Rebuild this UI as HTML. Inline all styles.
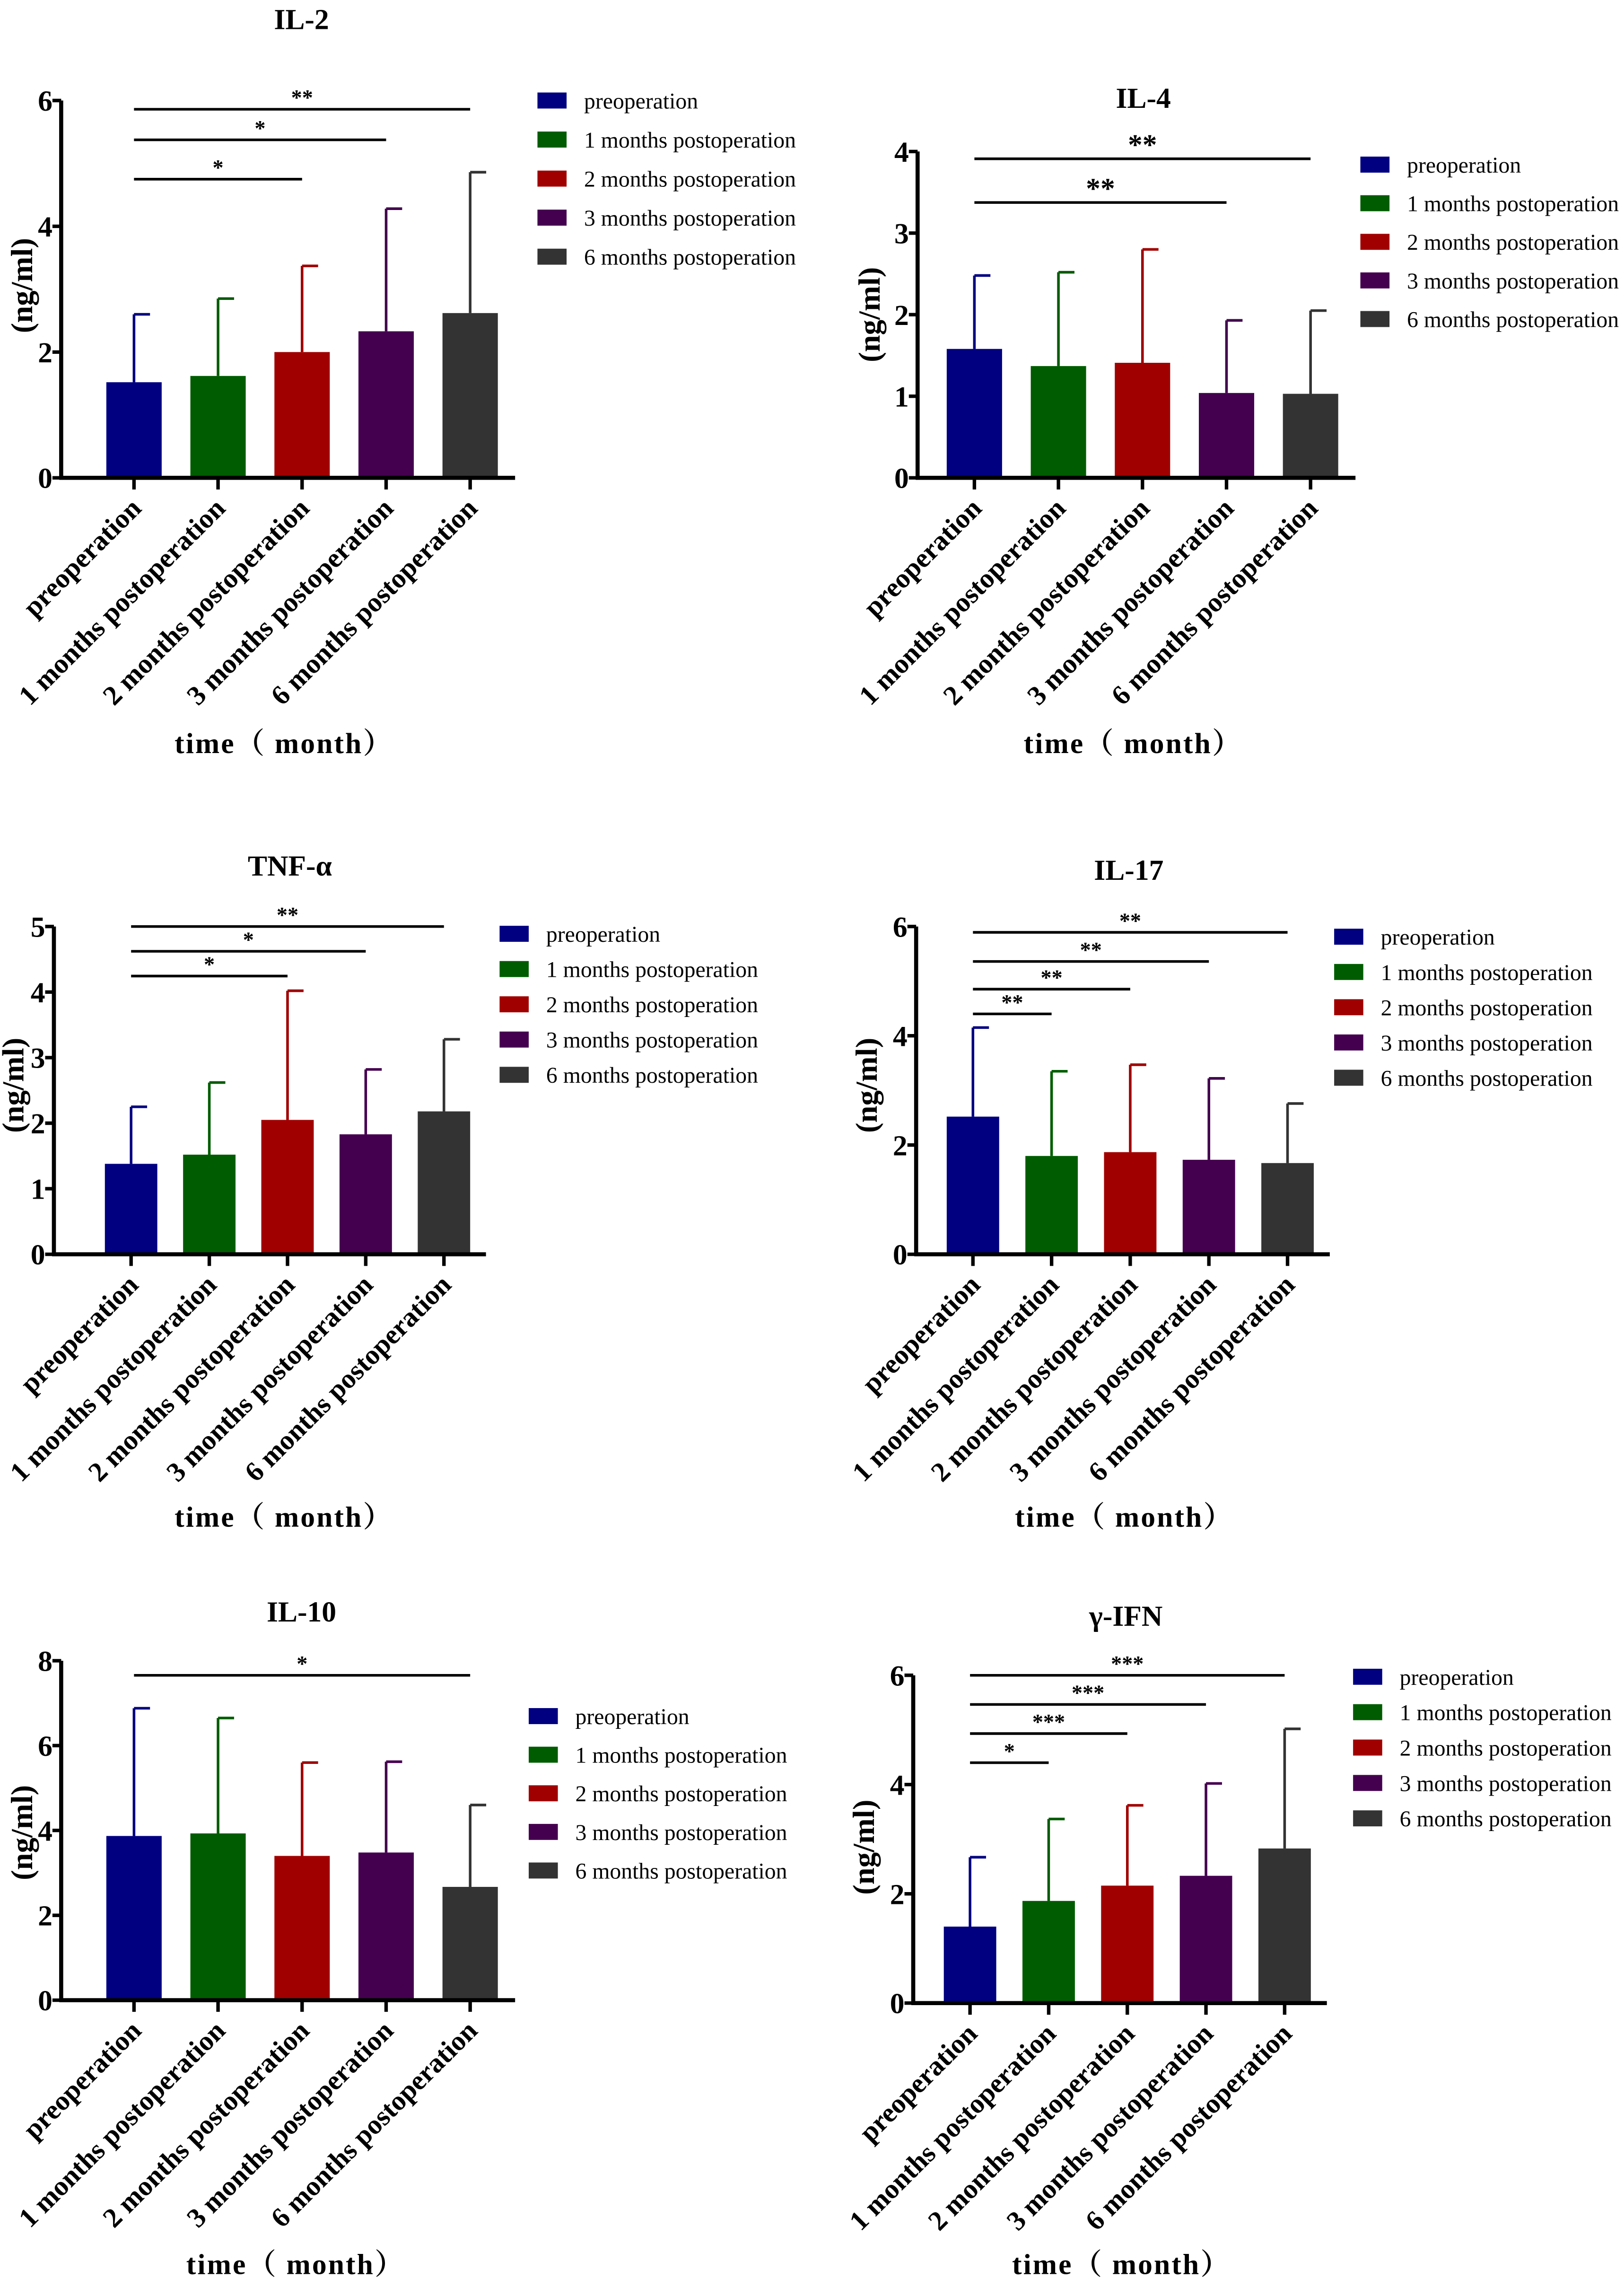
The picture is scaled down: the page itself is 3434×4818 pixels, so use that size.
<!DOCTYPE html>
<html><head><meta charset="utf-8"><style>
html,body{margin:0;padding:0;background:#fff}
svg{display:block}
text{font-family:"Liberation Serif","Noto Serif CJK SC",serif;fill:#000}
</style></head><body>
<svg id="fig" xmlns="http://www.w3.org/2000/svg" width="3434" height="4818" viewBox="0 0 1115 1564.4"></svg>
<script>
const categories = ["preoperation","1 months postoperation","2 months postoperation","3 months postoperation","6 months postoperation"];
const colors = ["#000080","#005c00","#a00000","#44004f","#333333"];
const il2Values = [1.52,1.62,2.0,2.33,2.62];
const il2Errors = [2.6,2.85,3.37,4.28,4.86];
const il2Ticks = [0,2,4,6];
const il4Values = [1.58,1.37,1.41,1.04,1.03];
const il4Errors = [2.48,2.52,2.8,1.93,2.05];
const il4Ticks = [0,1,2,3,4];
const tnfValues = [1.38,1.52,2.05,1.83,2.18];
const tnfErrors = [2.25,2.62,4.02,2.82,3.28];
const tnfTicks = [0,1,2,3,4,5];
const il17Values = [2.52,1.8,1.87,1.73,1.67];
const il17Errors = [4.15,3.35,3.47,3.22,2.76];
const il17Ticks = [0,2,4,6];
const il10Values = [3.87,3.93,3.4,3.48,2.67];
const il10Errors = [6.88,6.65,5.6,5.62,4.6];
const il10Ticks = [0,2,4,6,8];
const ifnValues = [1.4,1.87,2.15,2.33,2.83];
const ifnErrors = [2.67,3.37,3.62,4.02,5.02];
const ifnTicks = [0,2,4,6];

const NS="http://www.w3.org/2000/svg";
const svg=document.getElementById('fig');
function mk(tag,attrs,parent,txt){const e=document.createElementNS(NS,tag);for(const k in attrs)e.setAttribute(k,attrs[k]);if(txt!==undefined)e.textContent=txt;(parent||svg).appendChild(e);return e;}

function panel(p){
  const g=mk('g',{});
  
  
  const max=p.ticks[p.ticks.length-1];
  const y=v=>p.y0-(p.y0-p.yTop)*v/max;
  const t=mk('text',{x:p.titleX,y:p.titleY,'text-anchor':'middle','font-size':20,'font-weight':'bold'},g,p.title);
  
  
  p.values.forEach((v,i)=>{
    const cx=p.x0+p.gap*i, w=p.bw;
    const eb=mk('line',{x1:cx,x2:cx,y1:y(v),y2:y(p.errors[i]),stroke:colors[i],'stroke-width':1.8},g);
    
    
    const cap=mk('line',{x1:cx,x2:cx+11,y1:y(p.errors[i]),y2:y(p.errors[i]),stroke:colors[i],'stroke-width':1.8},g);
    
    
    const r=mk('rect',{x:cx-w/2,y:y(v),width:w,height:p.y0-y(v),fill:colors[i]},g);
    
    
    const tk=mk('line',{x1:cx,x2:cx,y1:p.y0,y2:p.y0+8,stroke:'#000','stroke-width':2.4},g);
    
    
    const lb=mk('text',{x:cx+6,y:p.y0+22,'text-anchor':'end','font-size':19,'font-weight':'bold',transform:`rotate(-45 ${cx+6} ${p.y0+22})`},g,categories[i]);
    
    
  });
  const ya=mk('line',{x1:p.ax,x2:p.ax,y1:p.yTop,y2:p.y0+1.2,stroke:'#000','stroke-width':2.8},g);
  
  
  const xa=mk('line',{x1:p.ax-1.3,x2:p.x0+p.gap*4+p.gap/2+2,y1:p.y0,y2:p.y0,stroke:'#000','stroke-width':2.8},g);
  
  
  p.ticks.forEach(tv=>{
    const tl=mk('line',{x1:p.ax-6,x2:p.ax,y1:y(tv),y2:y(tv),stroke:'#000','stroke-width':2.4},g);
    
    
    const tt=mk('text',{x:p.ax-6,y:y(tv)+7,'text-anchor':'end','font-size':20,'font-weight':'bold'},g,tv);
    
    
  });
  const yl=mk('text',{x:p.ylx,y:p.yly,'text-anchor':'middle','font-size':21,'font-weight':'bold',transform:`rotate(-90 ${p.ylx} ${p.yly})`},g,'(ng/ml)');
  
  
  const xl=mk('text',{x:p.xlx,y:p.xly,'text-anchor':'middle','font-size':20,'font-weight':'bold','letter-spacing':'1'},g,p.xlabel);
  
  
  p.sig.forEach(s=>{
    const x2=p.x0+p.gap*s[1];
    const sl=mk('line',{x1:p.x0,x2:x2,y1:s[0],y2:s[0],stroke:'#000','stroke-width':1.8},g);
    
    
    const st=mk('text',{x:(p.x0+x2)/2,y:s[0]-3,'text-anchor':'middle','font-size':s[3]||15,'font-weight':'bold'},g,s[2]);
    
    
  });
  categories.forEach((c,i)=>{
    const ly=p.legY+p.legGap*i;
    const sw=mk('rect',{x:p.legX,y:ly-5.5,width:20,height:11,fill:colors[i]},g);
    
    
    const lt=mk('text',{x:p.legX+32,y:ly+5.5,'font-size':15.5},g,c);
    
    
  });
}

panel({name:'il-2',title:'IL-2',titleX:207,titleY:20,values:il2Values,errors:il2Errors,ticks:il2Ticks,ax:42,y0:328,yTop:69,x0:92,gap:57.7,bw:38,
  ylx:22,yly:196,xlx:195,xly:517,xlabel:'time（ month）',sig:[[123,2,'*'],[96,3,'*'],[75,4,'**']],legX:369,legY:69,legGap:26.8});
panel({name:'il-4',title:'IL-4',titleX:785,titleY:74,values:il4Values,errors:il4Errors,ticks:il4Ticks,ax:630,y0:328,yTop:104,x0:669,gap:57.7,bw:38,
  ylx:604,yly:216,xlx:778,xly:517,xlabel:'time（ month）',sig:[[139,3,'**',20],[109,4,'**',20]],legX:934,legY:113,legGap:26.5});
panel({name:'tnf-alpha',title:'TNF-α',titleX:199,titleY:601,values:tnfValues,errors:tnfErrors,ticks:tnfTicks,ax:37,y0:861,yTop:636,x0:90,gap:53.7,bw:36,
  ylx:16,yly:745,xlx:195,xly:1048,xlabel:'time（ month）',sig:[[670,2,'*'],[653,3,'*'],[636,4,'**']],legX:343,legY:641,legGap:24.2});
panel({name:'il-17',title:'IL-17',titleX:775,titleY:604,values:il17Values,errors:il17Errors,ticks:il17Ticks,ax:629,y0:861,yTop:636,x0:668,gap:54,bw:36,
  ylx:602,yly:745,xlx:772,xly:1048,xlabel:'time（ month）',sig:[[696,1,'**'],[679,2,'**'],[660,3,'**'],[640,4,'**']],legX:916,legY:643,legGap:24.2});
panel({name:'il-10',title:'IL-10',titleX:207,titleY:1113,values:il10Values,errors:il10Errors,ticks:il10Ticks,ax:42,y0:1373,yTop:1140,x0:92,gap:57.7,bw:38,
  ylx:22,yly:1258,xlx:203,xly:1561,xlabel:'time（ month）',sig:[[1150,4,'*']],legX:363,legY:1178,legGap:26.5});
panel({name:'gamma-ifn',title:'γ-IFN',titleX:773,titleY:1116,values:ifnValues,errors:ifnErrors,ticks:ifnTicks,ax:627,y0:1375,yTop:1150,x0:666,gap:54,bw:36,
  ylx:600,yly:1268,xlx:770,xly:1561,xlabel:'time（ month）',sig:[[1210,1,'*'],[1190,2,'***'],[1170,3,'***'],[1150,4,'***']],legX:929,legY:1151,legGap:24.3});
</script>
</body></html>
